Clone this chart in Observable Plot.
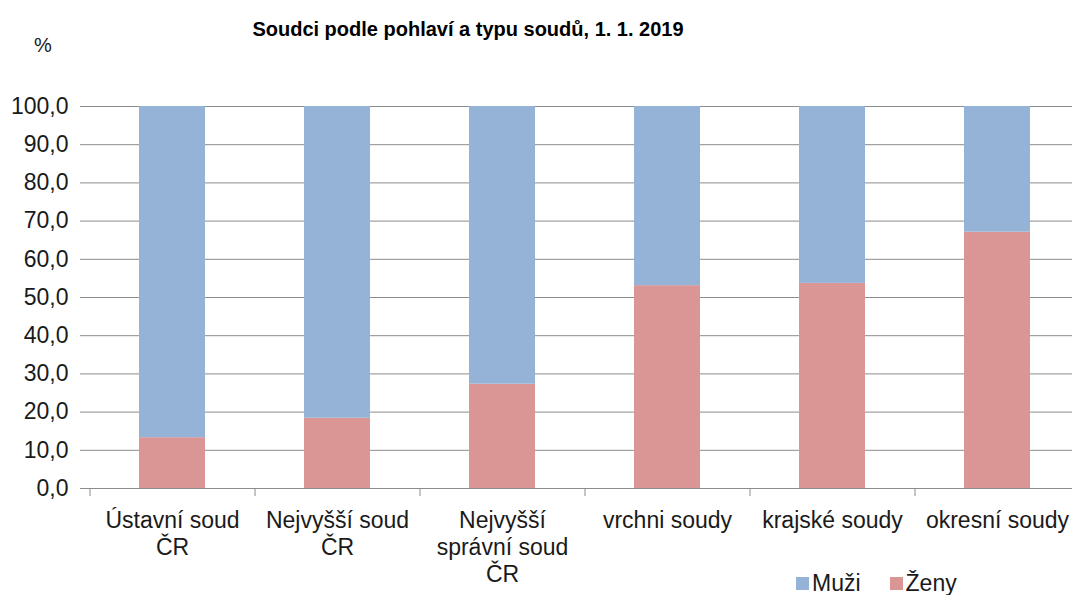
<!DOCTYPE html>
<html>
<head>
<meta charset="utf-8">
<script src="https://cdn.jsdelivr.net/npm/d3@7"></script>
<script src="https://cdn.jsdelivr.net/npm/@observablehq/plot@0.6"></script>
<style>
  body { margin: 0; background: #fff; font-family: "Liberation Sans", Arial, sans-serif; }
  #wrap { position: relative; width: 1072px; height: 595px; overflow: hidden; }
  #title { position: absolute; left: 0; width: 936px; top: 18px; text-align: center; font-size: 20px; font-weight: bold; color: #000; }
  #unit { position: absolute; left: 34px; top: 34px; font-size: 20px; color: #1a1a1a; }
  #chart { position: absolute; left: 0; top: 60px; }
  #legend { position: absolute; left: 796px; top: 570px; font-size: 23px; color: #1a1a1a; display: flex; align-items: center; }
  .item { display: flex; align-items: center; margin-right: 29px; }
  .sw { width: 13px; height: 13px; margin-right: 3px; }
</style>
</head>
<body>
<div id="wrap">
  <div id="title">Soudci podle pohlaví a typu soudů, 1. 1. 2019</div>
  <div id="unit">%</div>
  <div id="chart"></div>
  <div id="legend"></div>
</div>
<script>
const categories = ["Ústavní soud ČR", "Nejvyšší soud ČR", "Nejvyšší správní soud ČR", "vrchni soudy", "krajské soudy", "okresní soudy"];
const categoryLabels = ["Ústavní soud\nČR", "Nejvyšší soud\nČR", "Nejvyšší\nsprávní soud\nČR", "vrchni soudy", "krajské soudy", "okresní soudy"];
const series = ["Muži", "Ženy"];
const zeny = [13.3, 18.4, 27.3, 53.1, 53.7, 67.1];
const muzi = [86.7, 81.6, 72.7, 46.9, 46.3, 32.9];
const yTicks = [0, 10, 20, 30, 40, 50, 60, 70, 80, 90, 100];
const colors = ["#95B3D7", "#D99694"];

const data = [];
categories.forEach((c, i) => data.push({soud: c, pohlavi: "Ženy", value: zeny[i]}));
categories.forEach((c, i) => data.push({soud: c, pohlavi: "Muži", value: muzi[i]}));

const labelOf = new Map(categories.map((c, i) => [c, categoryLabels[i]]));
const grey = "#8c8c8c";

const chart = Plot.plot({
  width: 1072,
  height: 535,
  marginTop: 46,
  marginBottom: 107,
  marginLeft: 90,
  marginRight: 0,
  style: {fontFamily: "'Liberation Sans', Arial, sans-serif", fontSize: "23px", color: "#1a1a1a", background: "transparent"},
  x: {domain: categories, range: [90, 1080], paddingInner: 0.6, paddingOuter: 0.3, label: null},
  y: {domain: [0, 100], label: null},
  color: {domain: series, range: colors},
  marks: [
    Plot.gridY(yTicks, {stroke: grey, strokeOpacity: 1}),
    Plot.barY(data, {x: "soud", y: "value", fill: "pohlavi"}),
    Plot.ruleY([0], {stroke: grey}),
    Plot.ruleX([0], {x: () => 90, stroke: grey}),
    Plot.ruleX(categories, {x: d => d, dx: -82.5, y1: 0, y2: -2.1, stroke: grey}),
    Plot.axisY({ticks: yTicks, tickFormat: d => d.toFixed(1).replace(".", ","), tickSize: 10, tickPadding: 12, stroke: grey, fontSize: 23, label: null}),
    Plot.axisX({tickSize: 0, tickPadding: 20, tickFormat: d => labelOf.get(d), lineHeight: 1.18, fontSize: 23, label: null})
  ]
});
document.getElementById("chart").appendChild(chart);

const legend = document.getElementById("legend");
series.forEach((s, i) => {
  const it = document.createElement("div");
  it.className = "item";
  const sw = document.createElement("div");
  sw.className = "sw";
  sw.style.background = colors[i];
  it.appendChild(sw);
  const t = document.createElement("span");
  t.textContent = s;
  it.appendChild(t);
  legend.appendChild(it);
});
</script>
</body>
</html>
